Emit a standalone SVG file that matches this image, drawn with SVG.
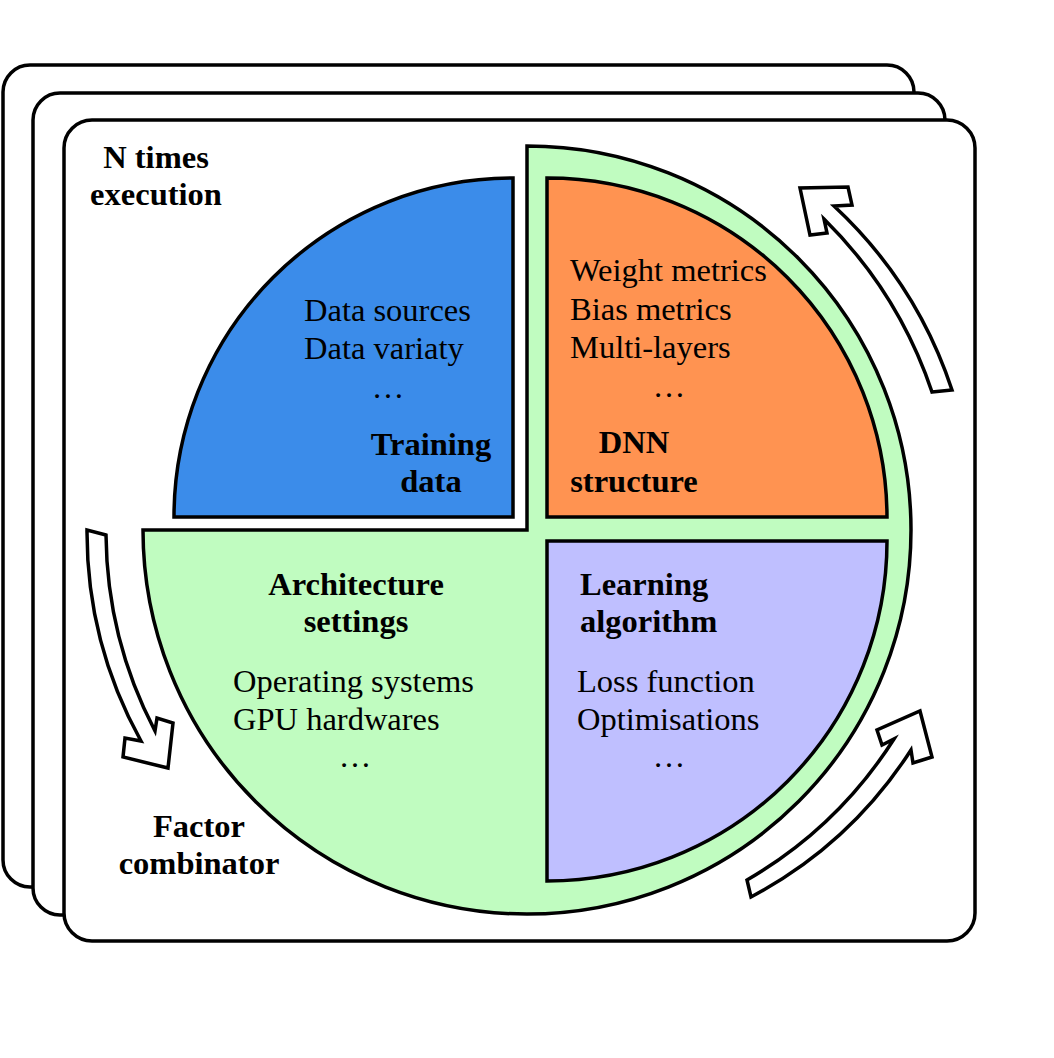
<svg xmlns="http://www.w3.org/2000/svg" width="1054" height="1058" viewBox="0 0 1054 1058">
<style>
.card{fill:#ffffff;stroke:#000;stroke-width:3.5}
.seg{stroke:#000;stroke-width:3.5;stroke-linejoin:miter}
.arr{fill:#ffffff;stroke:#000;stroke-width:3.5;stroke-linejoin:miter}
text{font-family:"Liberation Serif","Times New Roman",serif;font-size:32.5px;fill:#000}
.b{font-weight:bold}
.c{text-anchor:middle}
</style>
<rect width="1054" height="1058" fill="#ffffff"/>
<g id="cards">
<rect class="card" x="3" y="65" width="911" height="822" rx="27"/>
<rect class="card" x="33" y="93" width="912" height="822" rx="27"/>
<rect class="card" x="64" y="120" width="911" height="821" rx="28"/>
</g>
<g id="label-n-times">
<text class="b c" x="156" y="168">N times</text>
<text class="b c" x="156" y="205">execution</text>
</g>
<g id="architecture-settings">
<path class="seg" fill="#C0FCC0" d="M527,146 A384,384 0 1 1 143,530 L527,530 Z"/>
<text class="b c" x="356" y="595">Architecture</text>
<text class="b c" x="356" y="632">settings</text>
<text x="233" y="692">Operating systems</text>
<text x="233" y="730">GPU hardwares</text>
<text class="c" x="355" y="767">…</text>
</g>
<g id="training-data">
<path class="seg" fill="#3B8CEA" d="M513,517 L513,178 A339,339 0 0 0 174,517 Z"/>
<text x="304" y="321">Data sources</text>
<text x="304" y="359">Data variaty</text>
<text class="c" x="388" y="398">…</text>
<text class="b c" x="431" y="455">Training</text>
<text class="b c" x="431" y="492">data</text>
</g>
<g id="dnn-structure">
<path class="seg" fill="#FF9351" d="M547,517 L547,178 A340,340 0 0 1 887,517 Z"/>
<text x="570" y="281">Weight metrics</text>
<text x="570" y="320">Bias metrics</text>
<text x="570" y="358">Multi-layers</text>
<text class="c" x="669" y="397">…</text>
<text class="b c" x="634" y="453">DNN</text>
<text class="b c" x="634" y="492">structure</text>
</g>
<g id="learning-algorithm">
<path class="seg" fill="#BFBFFF" d="M547,541 L887,541 A340,340 0 0 1 547,881 Z"/>
<text class="b" x="580" y="595">Learning</text>
<text class="b" x="580" y="632">algorithm</text>
<text x="577" y="692">Loss function</text>
<text x="577" y="730">Optimisations</text>
<text class="c" x="669" y="767">…</text>
</g>
<g id="label-factor-combinator">
<text class="b c" x="199" y="837">Factor</text>
<text class="b c" x="199" y="874">combinator</text>
</g>
<g id="connectors">
<path class="arr" d="M932,392 L952,390 A440,440 0 0 0 834,206 L852,205 L848,187 L800,188 L810,235 L827,233 L824,219 A440,440 0 0 1 932,392 Z"/>
<path class="arr" d="M106,535 L87,530 A432,432 0 0 0 141,741 L125,738 L123,757 L168,768 L173,723 L157,718 L155,731 A432,432 0 0 1 106,535 Z"/>
<path class="arr" d="M747,880 A430,430 0 0 0 894,739 L882,745 L877,730 L920,711 L932,757 L913,763 L911,750 A430,430 0 0 1 751,897 Z"/>
</g>
</svg>
